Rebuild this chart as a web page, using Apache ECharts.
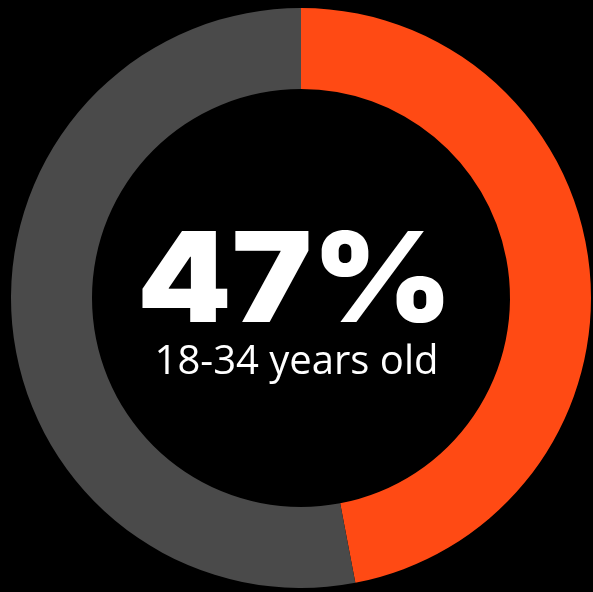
<!DOCTYPE html>
<html><head><meta charset="utf-8">
<style>html,body{margin:0;padding:0;background:#000;}#c{width:593px;height:592px;}</style>
<script src="https://cdn.jsdelivr.net/npm/echarts@6/dist/echarts.min.js"></script>
</head><body><div id="c"></div>
<script>
const categories = ['18-34 years old', 'Other'];
const values = [47, 53];
const colors = ['#FF4A14', '#4A4A4A'];
const bigLabel = '47%';
const subLabel = '18-34 years old';

const chart = echarts.init(document.getElementById('c'));
chart.setOption({
  backgroundColor: '#000',
  animation: false,
  series: [{
    type: 'pie',
    center: [301, 298],
    radius: [209, 290],
    startAngle: 90,
    clockwise: true,
    silent: true,
    label: { show: false },
    labelLine: { show: false },
    itemStyle: { borderWidth: 0 },
    data: categories.map((c, i) => ({ name: c, value: values[i], itemStyle: { color: colors[i] } }))
  }],
  graphic: [
    { type: 'text', x: 295, y: 284, scaleX: 1.08,
      style: { text: bigLabel, fill: '#fff', font: '900 125px Inter', textAlign: 'center', textVerticalAlign: 'middle' } },
    { type: 'text', left: 'center', top: 343,
      style: { text: subLabel, fill: '#fff', font: '400 40px "Open Sans"', textAlign: 'center' } }
  ]
});
</script></body></html>
